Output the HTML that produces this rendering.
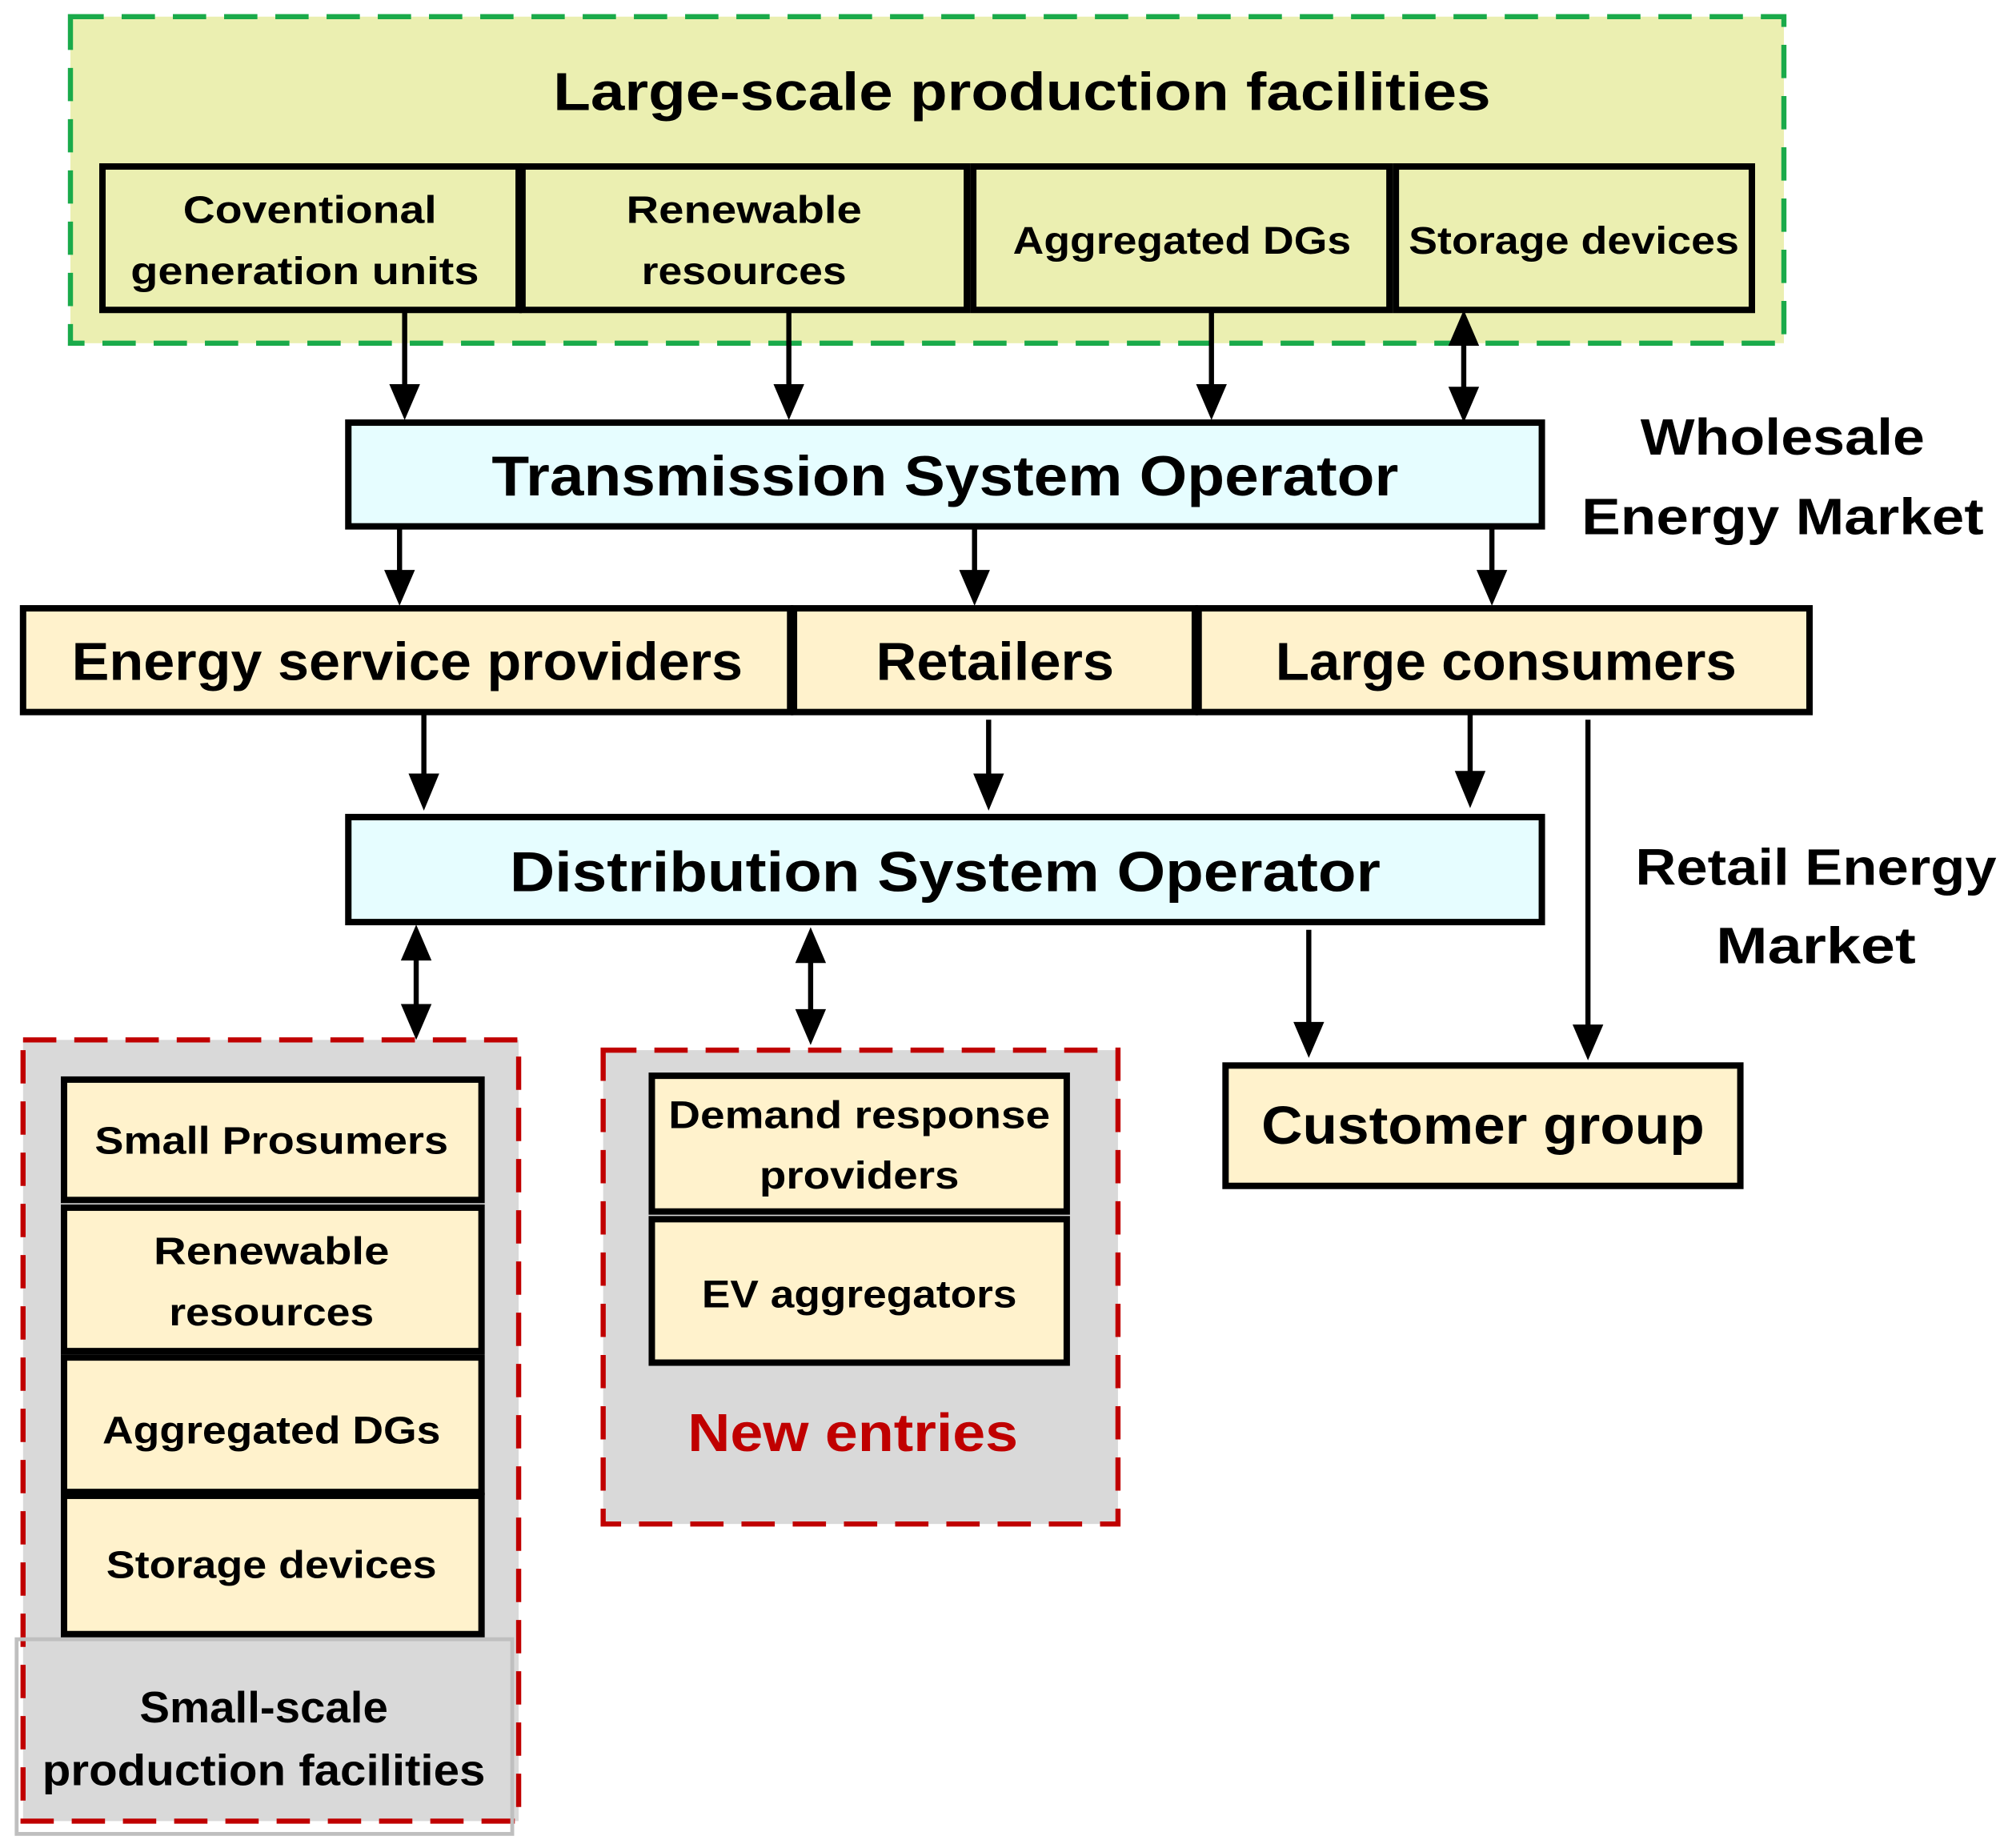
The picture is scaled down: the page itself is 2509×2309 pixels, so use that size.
<!DOCTYPE html>
<html><head><meta charset="utf-8">
<style>
html,body{margin:0;padding:0;background:#fff;}
svg{display:block;}
text{font-family:"Liberation Sans",sans-serif;font-weight:bold;fill:#000;text-anchor:middle;}
</style></head>
<body>
<svg width="2509" height="2309" viewBox="0 0 1568 1443" xmlns="http://www.w3.org/2000/svg">
<defs>
<marker id="a" viewBox="0 0 10 10" refX="9" refY="5" markerWidth="6" markerHeight="6" markerUnits="userSpaceOnUse" orient="auto-start-reverse">
</marker>
</defs>
<!-- Large-scale group -->
<rect x="55" y="13" width="1338" height="255" fill="#ebefb1" stroke="#1aaa4a" stroke-width="4" stroke-dasharray="26,14"/>
<text x="798" y="86" font-size="42" textLength="732" lengthAdjust="spacingAndGlyphs">Large-scale production facilities</text>
<g fill="#ebefb1" stroke="#000" stroke-width="5">
<rect x="80" y="130" width="325" height="112"/>
<rect x="408" y="130" width="347" height="112"/>
<rect x="760" y="130" width="325" height="112"/>
<rect x="1090" y="130" width="278" height="112"/>
</g>
<g font-size="30">
<text x="242" y="174" textLength="198" lengthAdjust="spacingAndGlyphs">Coventional</text>
<text x="238" y="222" textLength="272" lengthAdjust="spacingAndGlyphs">generation units</text>
<text x="581" y="174" textLength="184" lengthAdjust="spacingAndGlyphs">Renewable</text>
<text x="581" y="222" textLength="160" lengthAdjust="spacingAndGlyphs">resources</text>
<text x="923" y="198" textLength="264" lengthAdjust="spacingAndGlyphs">Aggregated DGs</text>
<text x="1229" y="198" textLength="258" lengthAdjust="spacingAndGlyphs">Storage devices</text>
</g>
<!-- arrows helper: line + triangle -->
<g stroke="#000" stroke-width="4">
<line x1="316" y1="242" x2="316" y2="305"/>
<line x1="616" y1="242" x2="616" y2="305"/>
<line x1="946" y1="242" x2="946" y2="305"/>
<line x1="1143" y1="265" x2="1143" y2="306"/>
<line x1="312" y1="411" x2="312" y2="450"/>
<line x1="761" y1="411" x2="761" y2="450"/>
<line x1="1165" y1="411" x2="1165" y2="450"/>
<line x1="331" y1="558" x2="331" y2="608"/>
<line x1="772" y1="562" x2="772" y2="608"/>
<line x1="1148" y1="558" x2="1148" y2="606"/>
<line x1="1240" y1="562" x2="1240" y2="804"/>
<line x1="325" y1="746" x2="325" y2="788"/>
<line x1="633" y1="748" x2="633" y2="792"/>
<line x1="1022" y1="726" x2="1022" y2="802"/>
</g>
<g fill="#000">
<polygon points="304,300 328,300 316,328"/>
<polygon points="604,300 628,300 616,328"/>
<polygon points="934,300 958,300 946,328"/>
<polygon points="1131,302 1155,302 1143,330"/>
<polygon points="1131,270 1155,270 1143,242"/>
<polygon points="300,445 324,445 312,473"/>
<polygon points="749,445 773,445 761,473"/>
<polygon points="1153,445 1177,445 1165,473"/>
<polygon points="319,604 343,604 331,633"/>
<polygon points="760,604 784,604 772,633"/>
<polygon points="1136,602 1160,602 1148,631"/>
<polygon points="1228,800 1252,800 1240,828"/>
<polygon points="313,784 337,784 325,812"/>
<polygon points="313,750 337,750 325,722"/>
<polygon points="621,788 645,788 633,816"/>
<polygon points="621,752 645,752 633,724"/>
<polygon points="1010,798 1034,798 1022,826"/>
</g>
<!-- TSO -->
<rect x="272" y="330" width="932" height="81" fill="#e6fdff" stroke="#000" stroke-width="5"/>
<text x="738" y="387" font-size="44" textLength="708" lengthAdjust="spacingAndGlyphs">Transmission System Operator</text>
<text x="1392" y="355" font-size="40" textLength="222" lengthAdjust="spacingAndGlyphs">Wholesale</text>
<text x="1392" y="417" font-size="40" textLength="314" lengthAdjust="spacingAndGlyphs">Energy Market</text>
<!-- middle row -->
<g fill="#fff2cc" stroke="#000" stroke-width="5">
<rect x="18" y="475" width="599" height="81"/>
<rect x="620" y="475" width="313" height="81"/>
<rect x="936" y="475" width="477" height="81"/>
</g>
<g font-size="42">
<text x="318" y="531" textLength="524" lengthAdjust="spacingAndGlyphs">Energy service providers</text>
<text x="777" y="531" textLength="186" lengthAdjust="spacingAndGlyphs">Retailers</text>
<text x="1176" y="531" textLength="360" lengthAdjust="spacingAndGlyphs">Large consumers</text>
</g>
<!-- DSO -->
<rect x="272" y="638" width="932" height="82" fill="#e6fdff" stroke="#000" stroke-width="5"/>
<text x="738" y="696" font-size="44" textLength="680" lengthAdjust="spacingAndGlyphs">Distribution System Operator</text>
<text x="1418" y="691" font-size="40" textLength="282" lengthAdjust="spacingAndGlyphs">Retail Energy</text>
<text x="1418" y="752" font-size="40" textLength="156" lengthAdjust="spacingAndGlyphs">Market</text>
<!-- Customer group -->
<rect x="957" y="832" width="402" height="94" fill="#fff2cc" stroke="#000" stroke-width="5"/>
<text x="1158" y="893" font-size="42" textLength="346" lengthAdjust="spacingAndGlyphs">Customer group</text>
<!-- small scale -->
<rect x="18" y="812" width="387" height="610" fill="#d9d9d9" stroke="#c00000" stroke-width="4" stroke-dasharray="26,14"/>
<rect x="13" y="1280" width="387" height="152" fill="none" stroke="#bfbfbf" stroke-width="3"/>
<g fill="#fff2cc" stroke="#000" stroke-width="5">
<rect x="50" y="843" width="326" height="94"/>
<rect x="50" y="943" width="326" height="112"/>
<rect x="50" y="1060" width="326" height="105"/>
<rect x="50" y="1168" width="326" height="108"/>
</g>
<g font-size="30">
<text x="212" y="901" textLength="276" lengthAdjust="spacingAndGlyphs">Small Prosumers</text>
<text x="212" y="987" textLength="184" lengthAdjust="spacingAndGlyphs">Renewable</text>
<text x="212" y="1035" textLength="160" lengthAdjust="spacingAndGlyphs">resources</text>
<text x="212" y="1127" textLength="264" lengthAdjust="spacingAndGlyphs">Aggregated DGs</text>
<text x="212" y="1232" textLength="258" lengthAdjust="spacingAndGlyphs">Storage devices</text>
</g>
<g font-size="34" style="fill:#c00000">
<text x="206" y="1345" textLength="194" lengthAdjust="spacingAndGlyphs" fill="#c00000">Small-scale</text>
<text x="206" y="1394" textLength="346" lengthAdjust="spacingAndGlyphs" fill="#c00000">production facilities</text>
</g>
<!-- new entries -->
<rect x="471" y="820" width="402" height="370" fill="#d9d9d9" stroke="#c00000" stroke-width="4" stroke-dasharray="26,14"/>
<g fill="#fff2cc" stroke="#000" stroke-width="5">
<rect x="509" y="840" width="324" height="106"/>
<rect x="509" y="952" width="324" height="112"/>
</g>
<g font-size="30">
<text x="671" y="881" textLength="298" lengthAdjust="spacingAndGlyphs">Demand response</text>
<text x="671" y="928" textLength="156" lengthAdjust="spacingAndGlyphs">providers</text>
<text x="671" y="1021" textLength="246" lengthAdjust="spacingAndGlyphs">EV aggregators</text>
</g>
<text x="666" y="1133" font-size="42" textLength="258" lengthAdjust="spacingAndGlyphs" fill="#c00000" style="fill:#c00000">New entries</text>
</svg>
</body></html>
